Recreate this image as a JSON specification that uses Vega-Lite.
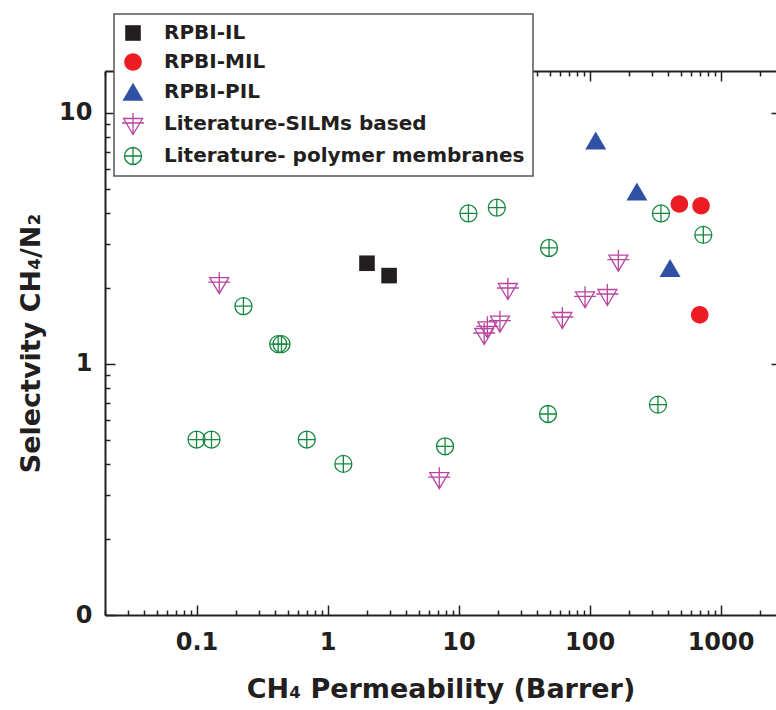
{
  "$schema": "https://vega.github.io/schema/vega-lite/v6.json",
  "autosize": {"type": "none"},
  "width": 671,
  "height": 544,
  "padding": {"left": 105, "top": 71, "right": 0, "bottom": 95},
  "background": "white",
  "data": {"values": [
    {"series": "RPBI-IL", "perm": 2.0, "sel": 2.52},
    {"series": "RPBI-IL", "perm": 2.95, "sel": 2.25},
    {"series": "RPBI-MIL", "perm": 485, "sel": 4.34},
    {"series": "RPBI-MIL", "perm": 710, "sel": 4.27},
    {"series": "RPBI-MIL", "perm": 694, "sel": 1.57},
    {"series": "RPBI-PIL", "perm": 111.5, "sel": 7.76},
    {"series": "RPBI-PIL", "perm": 230, "sel": 4.86},
    {"series": "RPBI-PIL", "perm": 412, "sel": 2.41},
    {"series": "Literature-SILMs based", "perm": 0.149, "sel": 2.10},
    {"series": "Literature-SILMs based", "perm": 7.13, "sel": 0.351},
    {"series": "Literature-SILMs based", "perm": 15.7, "sel": 1.317},
    {"series": "Literature-SILMs based", "perm": 16.6, "sel": 1.40},
    {"series": "Literature-SILMs based", "perm": 20.7, "sel": 1.474},
    {"series": "Literature-SILMs based", "perm": 23.8, "sel": 1.99},
    {"series": "Literature-SILMs based", "perm": 62, "sel": 1.525},
    {"series": "Literature-SILMs based", "perm": 92.4, "sel": 1.844},
    {"series": "Literature-SILMs based", "perm": 136.8, "sel": 1.883},
    {"series": "Literature-SILMs based", "perm": 166, "sel": 2.58},
    {"series": "Literature- polymer membranes", "perm": 0.228, "sel": 1.70},
    {"series": "Literature- polymer membranes", "perm": 0.42, "sel": 1.20},
    {"series": "Literature- polymer membranes", "perm": 0.445, "sel": 1.20},
    {"series": "Literature- polymer membranes", "perm": 0.1, "sel": 0.5},
    {"series": "Literature- polymer membranes", "perm": 0.13, "sel": 0.5},
    {"series": "Literature- polymer membranes", "perm": 0.694, "sel": 0.5},
    {"series": "Literature- polymer membranes", "perm": 1.32, "sel": 0.40},
    {"series": "Literature- polymer membranes", "perm": 7.89, "sel": 0.47},
    {"series": "Literature- polymer membranes", "perm": 11.9, "sel": 3.98},
    {"series": "Literature- polymer membranes", "perm": 19.6, "sel": 4.195},
    {"series": "Literature- polymer membranes", "perm": 49.1, "sel": 2.90},
    {"series": "Literature- polymer membranes", "perm": 351, "sel": 3.98},
    {"series": "Literature- polymer membranes", "perm": 739, "sel": 3.27},
    {"series": "Literature- polymer membranes", "perm": 48.2, "sel": 0.632},
    {"series": "Literature- polymer membranes", "perm": 333, "sel": 0.689}
  ]},
  "resolve": {"scale": {"x": "shared", "y": "shared"}, "axis": {"x": "independent", "y": "independent"}},
  "layer": [
    {
      "mark": {"type": "point", "opacity": 0},
      "encoding": {
        "x": {"field": "perm", "type": "quantitative", "scale": {"type": "log", "domain": [0.02, 2652], "nice": false},
          "axis": {"orient": "bottom", "values": [0.02,0.03,0.04,0.05,0.06,0.07,0.08,0.09,0.2,0.3,0.4,0.5,0.6,0.7,0.8,0.9,2,3,4,5,6,7,8,9,20,30,40,50,60,70,80,90,200,300,400,500,600,700,800,900,2000],
            "labels": false, "domain": false, "title": null, "tickSize": -5}},
        "y": {"field": "sel", "type": "quantitative", "scale": {"type": "log", "domain": [0.1, 14.7], "nice": false},
          "axis": {"orient": "left", "values": [0.2,0.3,0.4,0.5,0.6,0.7,0.8,0.9,2,3,4,5,6,7,8,9],
            "labels": false, "domain": false, "title": null, "tickSize": -5}}
      }
    },
    {
      "mark": {"type": "point", "opacity": 0},
      "encoding": {
        "x": {"field": "perm", "type": "quantitative", "scale": {"type": "log", "domain": [0.02, 2652], "nice": false},
          "axis": {"orient": "top", "values": [0.1,1,10,100,1000], "labels": false, "domain": true, "title": null, "tickSize": -10}},
        "y": {"field": "sel", "type": "quantitative", "scale": {"type": "log", "domain": [0.1, 14.7], "nice": false},
          "axis": {"orient": "right", "values": [1,10], "labels": false, "domain": false, "title": null, "tickSize": -5}}
      }
    },
    {
      "mark": {"type": "point", "opacity": 0},
      "encoding": {
        "x": {"field": "perm", "type": "quantitative", "scale": {"type": "log", "domain": [0.02, 2652], "nice": false},
          "axis": {"orient": "top", "values": [0.02,0.03,0.04,0.05,0.06,0.07,0.08,0.09,0.2,0.3,0.4,0.5,0.6,0.7,0.8,0.9,2,3,4,5,6,7,8,9,20,30,40,50,60,70,80,90,200,300,400,500,600,700,800,900,2000],
            "labels": false, "domain": false, "title": null, "tickSize": -5}},
        "y": {"field": "sel", "type": "quantitative", "scale": {"type": "log", "domain": [0.1, 14.7], "nice": false}, "axis": null}
      }
    },
    {
      "mark": {"type": "point", "filled": true, "size": 400, "strokeWidth": 1.3, "opacity": 1},
      "encoding": {
        "x": {"field": "perm", "type": "quantitative", "scale": {"type": "log", "domain": [0.02, 2652], "nice": false},
          "axis": {"orient": "bottom", "values": [0.1,1,10,100,1000], "labelExpr": "format(datum.value, '~g')",
            "tickSize": -10, "labelPadding": 25, "labelFontSize": 24, "title": "CH\u2084 Permeability (Barrer)", "titleFontSize": 27, "titlePadding": 22}},
        "y": {"field": "sel", "type": "quantitative", "scale": {"type": "log", "domain": [0.1, 14.7], "nice": false},
          "axis": {"orient": "left", "values": [0.1,1,10], "labelExpr": "datum.value < 0.5 ? '0' : format(datum.value, '~g')",
            "tickSize": -10, "labelPadding": 23, "labelFontSize": 24, "title": "Selectvity CH\u2084/N\u2082", "titleFontSize": 27, "titlePadding": 13}},
        "shape": {"field": "series", "type": "nominal", "scale": {
          "domain": ["RPBI-IL", "RPBI-MIL", "RPBI-PIL", "Literature-SILMs based", "Literature- polymer membranes"],
          "range": [
            "M-0.78,-0.78L0.78,-0.78L0.78,0.78L-0.78,0.78Z",
            "M-0.88,0A0.88,0.88 0 1,0 0.88,0A0.88,0.88 0 1,0 -0.88,0Z",
            "M0,-0.92L1.05,0.88L-1.05,0.88Z",
            "M-0.95,-0.55L0.95,-0.55L0,1.05ZM-1.1,-0.1L1.1,-0.1M0,-1.1L0,1.05",
            "M-0.85,0A0.85,0.85 0 1,0 0.85,0A0.85,0.85 0 1,0 -0.85,0ZM-0.85,0L0.85,0M0,-0.85L0,0.85"
          ]}},
        "fill": {"field": "series", "type": "nominal", "scale": {
          "domain": ["RPBI-IL", "RPBI-MIL", "RPBI-PIL", "Literature-SILMs based", "Literature- polymer membranes"],
          "range": ["#231f20", "#ed1c24", "#3051a3", "transparent", "transparent"]}},
        "stroke": {"field": "series", "type": "nominal", "scale": {
          "domain": ["RPBI-IL", "RPBI-MIL", "RPBI-PIL", "Literature-SILMs based", "Literature- polymer membranes"],
          "range": ["transparent", "transparent", "transparent", "#b8469f", "#13883f"]}}
      }
    }
  ],
  "config": {
    "view": {"stroke": null},
    "axis": {"domainColor": "#231f20", "tickColor": "#231f20", "labelColor": "#231f20", "titleColor": "#231f20",
      "labelFont": "DejaVu Sans", "titleFont": "DejaVu Sans", "labelFontWeight": "bold", "titleFontWeight": "bold",
      "grid": false, "domainWidth": 2, "tickWidth": 1.5, "zindex": 0},
    "legend": {"orient": "none", "legendX": 9, "legendY": -57, "title": null, "fillColor": "white", "strokeColor": "#555555",
      "strokeWidth": 1.5, "padding": 8, "labelFont": "DejaVu Sans", "labelFontWeight": "bold", "labelFontSize": 20,
      "labelColor": "#231f20", "symbolSize": 400, "rowPadding": 6, "labelOffset": 20, "zindex": 1, "symbolStrokeWidth": 1.3, "symbolOpacity": 1, "labelLimit": 500}
  }
}
